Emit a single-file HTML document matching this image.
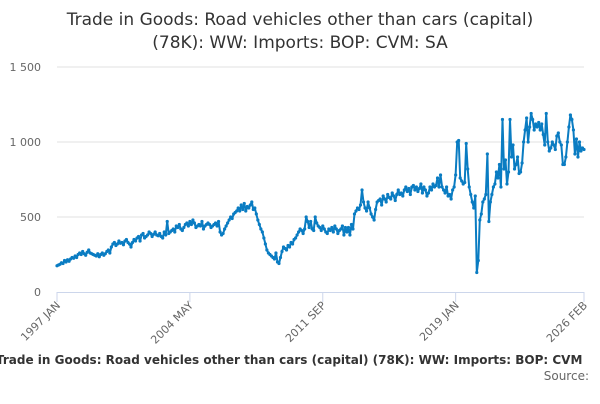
<!DOCTYPE html>
<html><head><meta charset="utf-8"><style>
body{margin:0;width:600px;height:400px;overflow:hidden;background:#fff;font-family:"DejaVu Sans",sans-serif}
</style></head><body>
<svg width="600" height="400" id="svg" font-family="DejaVu Sans, sans-serif">
<text x="300" y="25" text-anchor="middle" font-size="17" fill="#333">Trade in Goods: Road vehicles other than cars (capital)</text>
<text x="300" y="48" text-anchor="middle" font-size="17" fill="#333">(78K): WW: Imports: BOP: CVM: SA</text>
<g id="grid"></g><g id="xaxis"></g><g id="series"></g>
<text x="-4" y="364" font-size="12" font-weight="bold" fill="#333">Trade in Goods: Road vehicles other than cars (capital) (78K): WW: Imports: BOP: CVM</text>
<text x="589" y="380" text-anchor="end" font-size="12" fill="#666">Source:</text>
</svg>
<script>
const yTicks=[0,500,1000,1500];
const yTickLabels=["0","500","1 000","1 500"];
const xTickIdx=[0,88,176,264,349];
const xTickLabels=["1997 JAN","2004 MAY","2011 SEP","2019 JAN","2026 FEB"];
const values=[
175,180,185,195,190,210,200,215,205,220,230,225,
240,230,250,260,250,270,255,245,265,280,260,255,
250,245,240,255,235,250,260,245,255,270,280,260,
300,320,330,310,320,340,325,330,315,340,350,330,
320,300,330,350,340,360,370,340,380,390,360,370,
380,400,390,370,385,400,380,375,390,370,360,400,
380,470,390,400,410,420,400,440,430,450,420,410,
430,450,460,440,470,450,480,460,430,440,450,440,
470,420,440,450,460,450,430,440,450,460,440,470,
400,380,390,420,440,460,480,500,490,520,530,540,
560,540,580,550,590,540,570,560,580,600,550,560,
520,480,450,420,400,360,320,280,260,250,240,230,
220,260,200,190,230,270,300,290,280,310,300,330,
320,350,360,380,400,420,410,390,420,500,470,430,
470,420,410,500,460,440,430,410,440,420,400,390,
420,410,430,400,440,420,390,410,420,440,380,430,
400,430,380,450,420,520,540,560,550,580,680,600,
560,540,600,560,520,500,480,550,600,610,620,580,
640,620,600,650,630,620,660,640,610,650,680,650,
660,640,680,700,670,690,650,700,710,680,700,670,
690,720,660,700,680,640,660,700,680,720,700,710,
760,700,780,700,680,660,700,640,650,620,680,700,
780,1000,1010,760,740,720,730,990,820,700,650,600,
560,640,130,210,480,520,600,620,650,920,470,600,
650,700,720,800,760,850,700,1150,820,880,720,800,
1150,900,980,820,850,900,790,800,860,1000,1080,1160,
1000,1100,1190,1150,1080,1120,1100,1130,1080,1120,1050,980,
1190,1000,940,960,1000,980,950,1040,1060,1000,980,850,
850,900,1000,1100,1180,1150,1080,920,1020,900,1000,940,
960,950];
const NS="http://www.w3.org/2000/svg";
const X0=57,X1=584,Y0=292,Y1=67;
function xs(i){return X0+(X1-X0)*i/349;}
function ys(v){return Y0-(Y0-Y1)*v/1500;}
function mk(t,a,p){const e=document.createElementNS(NS,t);for(const k in a)e.setAttribute(k,a[k]);p.appendChild(e);return e;}
const grid=document.getElementById('grid');
yTicks.forEach((v,i)=>{
 if(v>0){const l=mk('line',{x1:X0,x2:X1,y1:ys(v),y2:ys(v),stroke:'#e0e0e0'},grid);
 
 }
 const t=mk('text',{x:X0-16,y:ys(v)+4,'text-anchor':'end','font-size':11,fill:'#666'},grid);
 t.textContent=yTickLabels[i];
 
 
});
const xa=document.getElementById('xaxis');
const ax=mk('line',{x1:X0,x2:X1,y1:Y0+0.5,y2:Y0+0.5,stroke:'#ccd6eb'},xa);


for(let k=0;k<xTickIdx.length;k++){
 const i=xTickIdx[k],x=xs(i);
 const tk=mk('line',{x1:x,x2:x,y1:Y0,y2:Y0+10,stroke:'#ccd6eb'},xa);
 
 
 const t=mk('text',{x:x+4,y:Y0+14,'text-anchor':'end','font-size':11,fill:'#666',transform:`rotate(-45 ${x+4} ${Y0+14})`},xa);
 t.textContent=xTickLabels[k];
 
 
}
const sg=document.getElementById('series');
const pts=values.map((v,i)=>xs(i).toFixed(1)+','+ys(v).toFixed(1)).join(' ');
const pl=mk('polyline',{points:pts,fill:'none',stroke:'#0a7cc2','stroke-width':2,'stroke-linejoin':'round'},sg);


values.forEach((v,i)=>{const c=mk('circle',{cx:xs(i),cy:ys(v),r:1.6,fill:'#0a7cc2'},sg);
 
 });
</script>
</body></html>
